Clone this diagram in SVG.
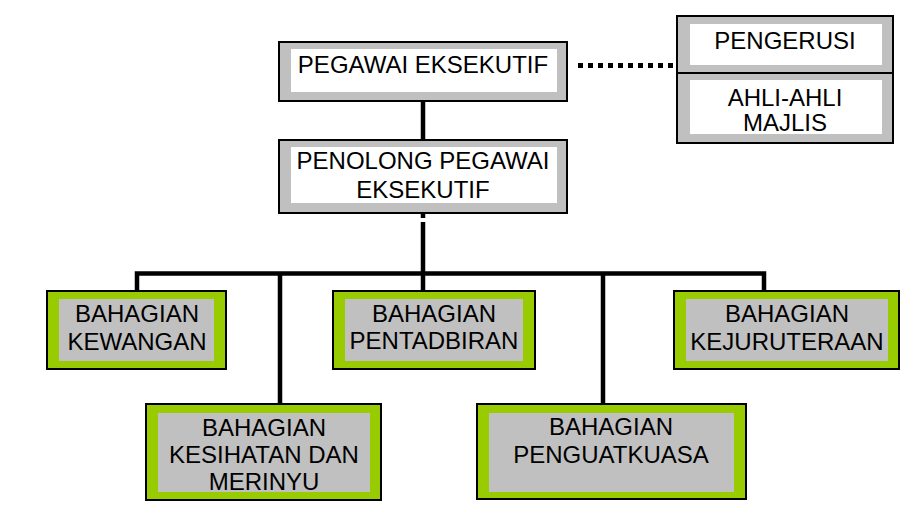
<svg xmlns="http://www.w3.org/2000/svg" width="924" height="527" viewBox="0 0 924 527">
<style>
.outer{fill:#c0c0c0;stroke:#000;stroke-width:2}
.inner{fill:#fff}
.gouter{fill:#99cc00;stroke:#000;stroke-width:2}
.ginner{fill:#c0c0c0}
text{font-family:"Liberation Sans",Arial,sans-serif;font-size:24px;fill:#000;text-anchor:middle}
.line{stroke:#000;stroke-width:4.5;fill:none}
</style>
<rect width="924" height="527" fill="#fff"/>
<g id="connectors">
<line class="line" x1="423" y1="101" x2="423" y2="140"/>
<line class="line" x1="423" y1="213" x2="423" y2="218"/>
<line class="line" x1="423" y1="222" x2="423" y2="291"/>
<polyline class="line" points="137,291 137,273.5 764,273.5 764,291"/>
<line class="line" x1="280" y1="273.5" x2="280" y2="404"/>
<line class="line" x1="603" y1="273.5" x2="603" y2="404"/>
<line x1="578" y1="65.5" x2="674" y2="65.5" stroke="#000" stroke-width="5" stroke-dasharray="5 5"/>
</g>
<g id="pegawai">
<rect class="outer" x="279" y="42" width="288" height="59"/>
<rect class="inner" x="291" y="49" width="266" height="43"/>
<text x="423" y="73">PEGAWAI EKSEKUTIF</text>
</g>
<g id="penolong">
<rect class="outer" x="279" y="140" width="288" height="73"/>
<rect class="inner" x="291" y="147" width="266" height="56"/>
<text x="423" y="169">PENOLONG PEGAWAI</text>
<text x="423" y="198">EKSEKUTIF</text>
</g>
<g id="majlis">
<rect class="outer" x="677" y="16" width="216" height="127"/>
<line x1="677" y1="73" x2="893" y2="73" stroke="#000" stroke-width="2"/>
<rect class="inner" x="690" y="24" width="192" height="41"/>
<rect class="inner" x="690" y="80" width="192" height="54"/>
<text x="785" y="49">PENGERUSI</text>
<text x="785" y="106">AHLI-AHLI</text>
<text x="785" y="131">MAJLIS</text>
</g>
<g id="kewangan">
<rect class="gouter" x="47" y="291" width="179" height="78"/>
<rect class="ginner" x="59" y="299" width="155" height="62"/>
<text x="137" y="322">BAHAGIAN</text>
<text x="137" y="350">KEWANGAN</text>
</g>
<g id="pentadbiran">
<rect class="gouter" x="333" y="291" width="202" height="78"/>
<rect class="ginner" x="345" y="299" width="178" height="62"/>
<text x="434" y="322">BAHAGIAN</text>
<text x="434" y="349">PENTADBIRAN</text>
</g>
<g id="kejuruteraan">
<rect class="gouter" x="674" y="291" width="225" height="78"/>
<rect class="ginner" x="686" y="299" width="202" height="62"/>
<text x="787" y="322">BAHAGIAN</text>
<text x="787" y="350">KEJURUTERAAN</text>
</g>
<g id="kesihatan">
<rect class="gouter" x="146" y="404" width="235" height="96"/>
<rect class="ginner" x="158" y="413" width="212" height="79"/>
<text x="264" y="436">BAHAGIAN</text>
<text x="264" y="463">KESIHATAN DAN</text>
<text x="264" y="490">MERINYU</text>
</g>
<g id="penguatkuasa">
<rect class="gouter" x="477" y="404" width="269" height="95"/>
<rect class="ginner" x="489" y="413" width="245" height="79"/>
<text x="611" y="435">BAHAGIAN</text>
<text x="611" y="463">PENGUATKUASA</text>
</g>
</svg>
